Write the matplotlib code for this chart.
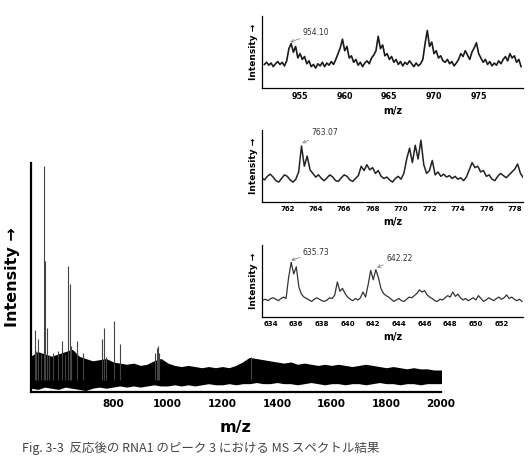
import numpy as np
import matplotlib
matplotlib.use("Agg")
import matplotlib.pyplot as plt

plt.rcParams['font.family'] = ['DejaVu Sans', 'Noto Sans CJK JP']

# ---- main spectrum (m/z 500-2000), intensity in % of axis height ----
band_mz = [500, 525, 550, 575, 600, 625, 650, 675, 700, 725, 750, 775, 800, 825, 850,
           875, 900, 925, 950, 975, 1000, 1025, 1050, 1075, 1100, 1125, 1150, 1175, 1200,
           1225, 1250, 1275, 1300, 1325, 1350, 1375, 1400, 1425, 1450, 1475, 1500, 1525,
           1550, 1575, 1600, 1625, 1650, 1675, 1700, 1725, 1750, 1775, 1800, 1825, 1850,
           1875, 1900, 1925, 1950, 1975, 2000]
band_top = [15, 17, 16, 15, 16, 17, 18, 15, 14, 13, 13.5, 14, 12.5, 12, 11.5,
            12, 11, 11.5, 13, 14, 12, 11, 10.5, 11, 10.5, 10, 10.5, 10, 10.5,
            10, 11, 12.5, 14.5, 14, 13.5, 13, 12.5, 12, 12.5, 11.5, 12, 11.5,
            11, 11.5, 11, 11.5, 11, 10.5, 11, 11.5, 11, 10.5, 10, 10.5, 10,
            9.5, 10, 9.5, 9.5, 9, 9]
band_bottom = [2, 1.5, 2.5, 2, 1.5, 2.5, 2, 1.5, 1, 2, 2.5, 2, 2.5, 3, 2.5,
               3, 2.5, 3, 3.5, 3, 3, 3.5, 3, 3.5, 3, 3.5, 4, 3.5, 3.5,
               4, 3.5, 4, 4, 4.5, 4, 4, 4.5, 4, 4, 3.5, 4, 4.5,
               4, 3.5, 4, 4, 3.5, 4, 4, 3.5, 4, 4.5, 4, 4, 3.5,
               4, 4, 3.5, 4, 4, 4]
peak_mz = [514, 520, 527, 535, 546, 550, 557, 565, 580, 600, 615, 625, 635, 641, 645,
           668, 692, 760, 768, 775, 805, 827, 955, 960, 964, 970, 1305]
peak_int = [27, 18, 23, 17, 98.5, 57, 28, 16, 17, 18, 22, 16, 55, 47, 20,
            22, 17, 23, 28, 15, 31, 21, 17, 19, 20, 17, 15]
main_ticks = [800, 1000, 1200, 1400, 1600, 1800, 2000]

# ---- inset 1 (m/z 951-980), start 951.0 step 0.25 ----
in1_start, in1_step = 951.0, 0.25
in1_int = [33, 36, 32, 35, 30, 34, 37, 33, 36, 31,
           38, 55, 62, 50, 58, 42, 48, 40, 44, 34, 38, 30, 33, 28, 34, 31, 36, 30, 35, 32,
           37, 33, 40, 48, 56, 68, 52, 58, 42, 45, 36, 40, 32, 36, 30, 35, 38, 34, 42, 46,
           52, 72, 55, 60, 45, 48, 40, 44, 36, 40, 33, 37, 31, 36, 33, 38, 34, 30, 35, 31,
           34, 40, 62, 80, 58, 64, 48, 52, 42, 45, 38, 36, 40, 34, 37, 31, 35, 40, 48, 44,
           52, 46, 40, 50, 56, 63, 48, 42, 36, 40, 33, 37, 31, 35, 32, 38, 34, 40, 44, 38,
           48, 42, 45, 36, 40, 30]
in1_ticks = [955, 960, 965, 970, 975]

# ---- inset 2 (m/z 760-779), start 760.2 step 0.2 ----
in2_start, in2_step = 760.2, 0.2
in2_int = [34, 31, 36, 39, 35, 30, 28, 33, 38, 36, 31, 28, 32, 42, 78, 50, 64, 45, 40, 35,
           38, 33, 30, 34, 38, 35, 30, 29, 34, 38, 36, 31, 29, 33, 37, 50, 44, 52, 45, 48,
           40, 44, 36, 33, 35, 31, 28, 33, 36, 32, 40, 60, 75, 55, 79, 60, 86, 52, 40, 44,
           58, 38, 42, 36, 39, 35, 37, 33, 36, 32, 34, 30, 35, 45, 55, 48, 50, 42, 44, 36,
           38, 32, 30, 36, 40, 37, 34, 38, 42, 46, 53, 40, 34]
in2_ticks = [762, 764, 766, 768, 770, 772, 774, 776, 778]

# ---- inset 3 (m/z 633-654), start 633.4 step 0.2 ----
in3_start, in3_step = 633.4, 0.2
in3_int = [24, 25, 23, 26, 27, 25, 23, 26, 28, 26, 55, 76, 60, 70, 42, 32, 28, 26, 24, 22,
           25, 27, 25, 23, 22, 24, 27, 26, 31, 49, 36, 40, 33, 28, 25, 23, 26, 24, 27, 35,
           28, 45, 65, 52, 66, 55, 40, 33, 30, 28, 25, 22, 24, 26, 23, 22, 25, 28, 27, 30,
           33, 38, 35, 37, 31, 28, 26, 23, 22, 25, 24, 27, 30, 28, 35, 29, 32, 27, 24, 26,
           23, 25, 27, 24, 30, 26, 22, 24, 27, 25, 23, 26, 28, 25, 27, 31, 26, 28, 25, 23,
           25, 22]
in3_ticks = [634, 636, 638, 640, 642, 644, 646, 648, 650, 652]

caption = "Fig. 3-3  反応後の RNA1 のピーク 3 における MS スペクトル結果"

fig = plt.figure(figsize=(5.31, 4.57), dpi=100)

# main spectrum
ax = fig.add_axes([0.0584, 0.1429, 0.772, 0.5004])
ax.fill_between(band_mz, band_bottom, band_top, color='black', lw=1.6, edgecolor='black')
ax.vlines(peak_mz, 5, peak_int, color='#444444', lw=0.8)
ax.set_xlim(500, 2000)
ax.set_ylim(0, 100)
ax.set_xticks(main_ticks)
ax.set_xticklabels([str(t) for t in main_ticks], fontsize=7.5, fontweight='bold')
ax.tick_params(axis='x', length=0, pad=5)
ax.set_yticks([])
for s in ['top', 'right']:
    ax.spines[s].set_visible(False)
for s in ['left', 'bottom']:
    ax.spines[s].set_linewidth(1.6)
ax.set_xlabel('m/z', fontsize=11.5, fontweight='bold', labelpad=8)
ax.set_ylabel('Intensity →', fontsize=11.5, fontweight='bold', labelpad=8)


def draw_inset(rect, start, step, vals, xlim, ticks, tick_fs, notes, lw, col):
    a = fig.add_axes(rect)
    x = start + step * np.arange(len(vals))
    a.plot(x, vals, color=col, lw=lw)
    a.set_xlim(*xlim)
    a.set_ylim(0, 100)
    a.set_xticks(ticks)
    a.set_xticklabels([str(t) for t in ticks], fontsize=tick_fs, fontweight='bold')
    a.tick_params(axis='x', length=0, pad=2.5)
    a.set_yticks([])
    for s in ['top', 'right']:
        a.spines[s].set_visible(False)
    for s in ['left', 'bottom']:
        a.spines[s].set_linewidth(0.9)
    a.set_xlabel('m/z', fontsize=7, fontweight='bold', labelpad=4)
    a.set_ylabel('Intensity →', fontsize=6.5, fontweight='bold', labelpad=3)
    for label, xy, xytext in notes:
        a.annotate(label, xy=xy, xytext=xytext, fontsize=5.5, color='#333333',
                   va='center', ha='left',
                   arrowprops=dict(arrowstyle='->', color='#777777', lw=0.5,
                                   shrinkA=0, shrinkB=0))
    return a


draw_inset([0.4928, 0.8068, 0.4927, 0.158], in1_start, in1_step, in1_int,
           (950.7, 980.0), in1_ticks, 5.8,
           [('954.10', (953.9, 64), (955.3, 77))], 1.2, '#1a1a1a')
draw_inset([0.4928, 0.5573, 0.4927, 0.158], in2_start, in2_step, in2_int,
           (760.2, 778.6), in2_ticks, 5.0,
           [('763.07', (763.05, 82), (763.7, 96))], 1.1, '#222222')
draw_inset([0.4928, 0.3057, 0.4927, 0.158], in3_start, in3_step, in3_int,
           (633.3, 653.7), in3_ticks, 5.0,
           [('635.73', (635.6, 79), (636.5, 90)),
            ('642.22', (642.3, 69), (643.0, 82))], 0.9, '#333333')

fig.text(0.042, 0.004, caption, fontsize=9, color='#444444', va='bottom', ha='left',
         family=['Noto Sans CJK JP', 'DejaVu Sans'])

fig.savefig('out.png', dpi=100, facecolor='white')
